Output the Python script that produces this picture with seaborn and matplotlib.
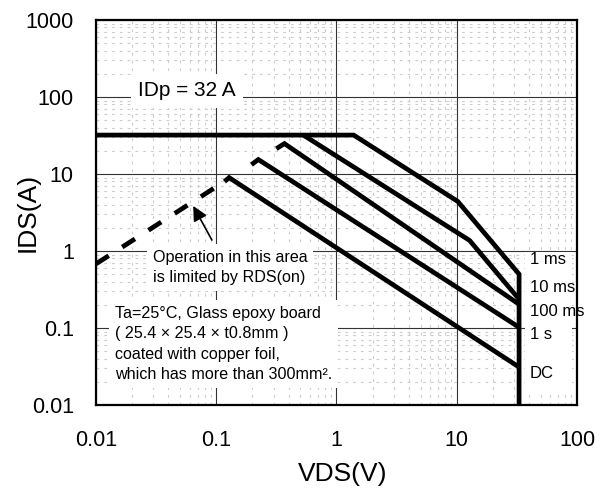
import matplotlib
matplotlib.use("Agg")
import matplotlib.pyplot as plt
from matplotlib.patches import Rectangle
import seaborn as sns

# Safe operating area
# RDS(on) limit (dashed)
rds_v = [0.01, 0.117]
rds_i = [0.68, 7.98]

# pulse / DC curves (VDS in V, IDS in A)
ms1_v = [0.01, 1.39, 10.2, 33, 33]
ms1_i = [32, 32, 4.4, 0.5, 0.01]
ms10_v = [0.53, 12.8, 33]
ms10_i = [32, 1.37, 0.236]
ms100_v = [0.316, 0.369, 33]
ms100_i = [21.3, 24.8, 0.203]
s1_v = [0.196, 0.224, 33]
s1_i = [13.2, 15.4, 0.102]
dc_v = [0.117, 0.128, 33]
dc_i = [7.98, 8.97, 0.031]

curve_names = ["1 ms", "10 ms", "100 ms", "1 s", "DC"]
label_y = [0.377, 0.304, 0.242, 0.184, 0.083]

x_ticks = [0.01, 0.1, 1, 10, 100]
x_labels = ["0.01", "0.1", "1", "10", "100"]
y_ticks = [0.01, 0.1, 1, 10, 100, 1000]
y_labels = ["0.01", "0.1", "1", "10", "100", "1000"]

sns.set_style("white")
plt.rcParams["font.family"] = ["Liberation Sans", "DejaVu Sans"]
plt.rcParams["text.color"] = "black"
plt.rcParams["axes.labelcolor"] = "black"
plt.rcParams["xtick.color"] = "black"
plt.rcParams["ytick.color"] = "black"

fig = plt.figure(figsize=(6.06, 4.91), dpi=100)
ax = fig.add_axes([0.1584, 0.1752, 0.7937, 0.7841])
ax.set_xscale("log")
ax.set_yscale("log")
ax.set_xlim(0.01, 100)
ax.set_ylim(0.01, 1000)

# grid
ax.set_axisbelow(True)
ax.grid(True, which="major", color="#333333", lw=0.8)
ax.grid(True, which="minor", color="#cccccc", lw=0.8, linestyle=(0, (2.5, 4.5)))

# curves
curves = [(ms1_v, ms1_i), (ms10_v, ms10_i), (ms100_v, ms100_i),
          (s1_v, s1_i), (dc_v, dc_i)]
for v, i in curves:
    sns.lineplot(x=v, y=i, sort=False, estimator=None, ax=ax, color="black",
                 lw=3.4, solid_joinstyle="miter", solid_capstyle="butt", zorder=3)

sns.lineplot(x=rds_v, y=rds_i, sort=False, estimator=None, ax=ax,
             color="black", lw=3.4, zorder=3)
ax.lines[-1].set_linestyle((0, (3.2, 3.4)))

# white patch behind the curve names
ax.add_patch(Rectangle((0.892, 0.039), 0.098, 0.358, transform=ax.transAxes,
                       facecolor="white", edgecolor="none", zorder=1))
for name, yy in zip(curve_names, label_y):
    ax.text(0.902, yy, name, transform=ax.transAxes, fontsize=12,
            ha="left", va="center", zorder=4)

box = dict(boxstyle="square,pad=0.35", facecolor="white", edgecolor="none")
ax.text(0.087, 0.816, "IDp = 32 A", transform=ax.transAxes, fontsize=15,
        ha="left", va="center", bbox=box, zorder=4)
ax.text(0.1185, 0.357, "Operation in this area\nis limited by RDS(on)",
        transform=ax.transAxes, fontsize=11.6, ha="left", va="center",
        linespacing=1.45, bbox=box, zorder=4)
ax.text(0.0395, 0.158,
        "Ta=25°C, Glass epoxy board\n( 25.4 × 25.4 × t0.8mm )\n"
        "coated with copper foil,\nwhich has more than 300mm².",
        transform=ax.transAxes, fontsize=11.6, ha="left", va="center",
        linespacing=1.45, bbox=box, zorder=4)

# arrow pointing at the RDS(on) line
ax.annotate("", xy=(0.0627, 4.14), xytext=(0.0944, 1.29),
            arrowprops=dict(arrowstyle="-|>", color="black", lw=1.2,
                            mutation_scale=22), zorder=4)

ax.set_xticks(x_ticks, x_labels)
ax.set_yticks(y_ticks, y_labels)
ax.tick_params(which="both", length=0)
ax.tick_params(axis="x", labelsize=15.5, pad=18)
ax.tick_params(axis="y", labelsize=15.5, pad=16)

ax.set_xlabel("VDS(V)", fontsize=19)
ax.set_ylabel("IDS(A)", fontsize=19)
ax.xaxis.set_label_coords(0.513, -0.148)
ax.yaxis.set_label_coords(-0.118, 0.5)

for s in ax.spines.values():
    s.set_visible(True)
    s.set_color("black")
    s.set_linewidth(1.6)

fig.savefig("out.png", dpi=100)
